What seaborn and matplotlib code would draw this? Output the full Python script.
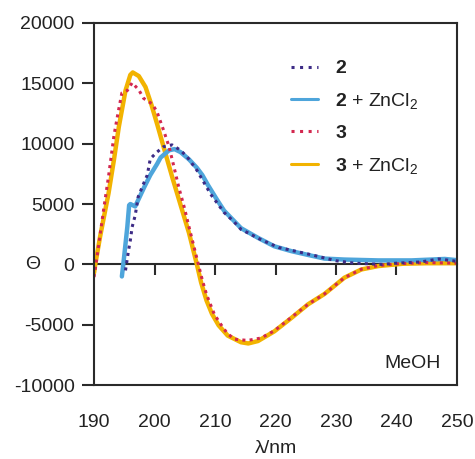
import numpy as np
import pandas as pd
import matplotlib
matplotlib.use("Agg")
import matplotlib.pyplot as plt
import seaborn as sns
from matplotlib.lines import Line2D

# ---------------- data ----------------
wl_3zn = [190.0, 190.2, 191.0, 192.4, 193.3, 194.1, 195.2, 196.0, 196.4, 197.4, 198.5,
          199.5, 200.5, 201.8, 203.0, 204.5, 205.7, 207.0, 207.7, 208.6, 209.5, 210.6,
          212.1, 214.3, 215.5, 217.1, 219.8, 222.6, 225.4, 228.1, 231.4, 234.2, 237.0,
          241.0, 245.0, 250.0]
th_3zn = [-700, 0, 2300, 5900, 8700, 11400, 14400, 15700, 15900, 15600, 14700,
          13200, 11500, 9200, 7100, 4600, 2600, 0, -1500, -3000, -4100, -5050,
          -5900, -6450, -6550, -6350, -5550, -4450, -3300, -2450, -1100, -420, -140,
          50, 100, 100]

wl_3 = [190.0, 190.4, 191.6, 192.4, 193.3, 194.1, 194.6, 195.5, 196.3, 197.4, 198.2,
        199.6, 200.4, 201.5, 202.4, 203.2, 204.0, 204.9, 205.7, 206.8, 207.9, 208.6,
        209.9, 211.0, 212.0, 213.2, 215.4, 217.6, 219.8, 222.6, 225.4, 228.1, 231.4,
        234.2, 237.0, 240.0, 245.0, 250.0]
th_3 = [-1050, 300, 4600, 7300, 10700, 12900, 14200, 14400, 15050, 14450, 13750,
        13300, 12650, 11100, 9750, 8100, 6400, 4750, 3100, 900, -1300, -2500,
        -4150, -5000, -5700, -6200, -6300, -6100, -5500, -4400, -3300, -2450, -1100,
        -400, -100, 50, 150, 100]

wl_2zn = [194.6, 194.9, 195.5, 195.8, 196.0, 196.8, 198.3, 199.3, 200.4, 201.0, 202.4,
          203.3, 204.3, 205.7, 207.0, 207.9, 208.8, 210.4, 211.5, 214.3, 217.1, 219.8,
          222.6, 225.4, 228.1, 231.4, 237.0, 242.5, 248.0, 250.0]
th_2zn = [-1000, 300, 3100, 4900, 5000, 4800, 6400, 7400, 8300, 8850, 9450,
          9550, 9300, 8700, 8000, 7400, 6600, 5300, 4450, 3000, 2200, 1500,
          1100, 780, 480, 400, 330, 330, 450, 350]

wl_2 = [195.2, 195.7, 196.0, 196.3, 196.8, 197.3, 198.2, 198.8, 199.3, 200.4, 201.5,
        202.9, 204.3, 205.4, 207.0, 209.3, 211.5, 213.2, 214.3, 217.6, 220.5, 225.9,
        230.0, 233.0, 237.6, 240.0, 244.0, 247.0, 250.0]
th_2 = [-500, 1150, 2000, 3100, 4050, 5600, 6700, 7400, 8750, 9300, 9750,
        9900, 9450, 8900, 7800, 5800, 4300, 3500, 2900, 2050, 1400, 800,
        300, 100, 0, 100, 200, 450, 250]

labels = [r"$\mathbf{2}$", r"$\mathbf{2}$ + ZnCl$_2$", r"$\mathbf{3}$", r"$\mathbf{3}$ + ZnCl$_2$"]
colors = ["#3d2b86", "#4ea5db", "#d3284f", "#f2b300"]

x_ticks = [190, 200, 210, 220, 230, 240, 250]
y_ticks = [-10000, -5000, 0, 5000, 10000, 15000, 20000]

# ---------------- style ----------------
sns.set_style("white")
plt.rcParams["font.family"] = ["Liberation Sans", "DejaVu Sans"]
plt.rcParams["mathtext.fontset"] = "custom"
plt.rcParams["mathtext.rm"] = "Liberation Sans"
plt.rcParams["mathtext.bf"] = "Liberation Sans:bold"
plt.rcParams["mathtext.it"] = "Liberation Sans:italic"

fig = plt.figure(figsize=(4.75, 4.59), dpi=100)
ax = fig.add_axes([0.198, 0.161, 0.764, 0.789])

fs = 14
text_col = "#222222"
spine_col = "#2a2a2a"

# solid lines first, dotted on top
sns.lineplot(x=wl_3zn, y=th_3zn, ax=ax, color=colors[3], lw=3.2, sort=False,
             solid_joinstyle="round", solid_capstyle="round")
sns.lineplot(x=wl_2zn, y=th_2zn, ax=ax, color=colors[1], lw=3.2, sort=False,
             solid_joinstyle="round", solid_capstyle="round")
dot = (0, (1, 1.4))
sns.lineplot(x=wl_3, y=th_3, ax=ax, color=colors[2], lw=2.2, linestyle=dot, sort=False,
             dash_capstyle="butt")
sns.lineplot(x=wl_2, y=th_2, ax=ax, color=colors[0], lw=2.2, linestyle=dot, sort=False,
             dash_capstyle="butt")

ax.set_xlim(190, 250)
ax.set_ylim(-10000, 20000)
ax.set_xticks(x_ticks)
ax.set_yticks(y_ticks)
ax.set_yticklabels([str(v) for v in y_ticks])
ax.tick_params(axis="x", length=0, pad=21, labelsize=fs, labelcolor=text_col)
ax.tick_params(axis="y", direction="out", left=True, length=9, width=1.5,
               color=spine_col, pad=5, labelsize=fs, labelcolor=text_col)
for s in ax.spines.values():
    s.set_visible(True)
    s.set_color(spine_col)
    s.set_linewidth(1.5)

# zero line carrying the inner x ticks
sec = ax.secondary_xaxis(1.0 / 3.0)
sec.set_xticks(x_ticks[1:-1])
sec.tick_params(axis="x", direction="out", length=8, width=1.5, color=spine_col,
                labelbottom=False, labeltop=False)
for s in sec.spines.values():
    s.set_color(spine_col)
    s.set_linewidth(1.5)

ax.set_xlabel("λ/nm", fontsize=fs, color=text_col, labelpad=6)
ax.set_ylabel("Θ", fontsize=fs, color=text_col, rotation=0, va="center", ha="center")
ax.yaxis.set_label_coords(-0.17, 1.0 / 3.0)

ax.text(0.955, 0.035, "MeOH", transform=ax.transAxes, ha="right", va="bottom",
        fontsize=fs, color=text_col)

handles = [
    Line2D([], [], color=colors[0], lw=2.2, linestyle=(0, (1, 1.8)), dash_capstyle="butt"),
    Line2D([], [], color=colors[1], lw=2.2),
    Line2D([], [], color=colors[2], lw=2.2, linestyle=(0, (1, 1.8)), dash_capstyle="butt"),
    Line2D([], [], color=colors[3], lw=2.2),
]
leg = ax.legend(handles, labels, loc="upper left", bbox_to_anchor=(0.52, 0.92),
                frameon=False, fontsize=fs, handlelength=1.4, handletextpad=0.9,
                labelspacing=0.7, borderaxespad=0)
for t in leg.get_texts():
    t.set_color(text_col)

fig.savefig("out.png", dpi=100, facecolor="white")
